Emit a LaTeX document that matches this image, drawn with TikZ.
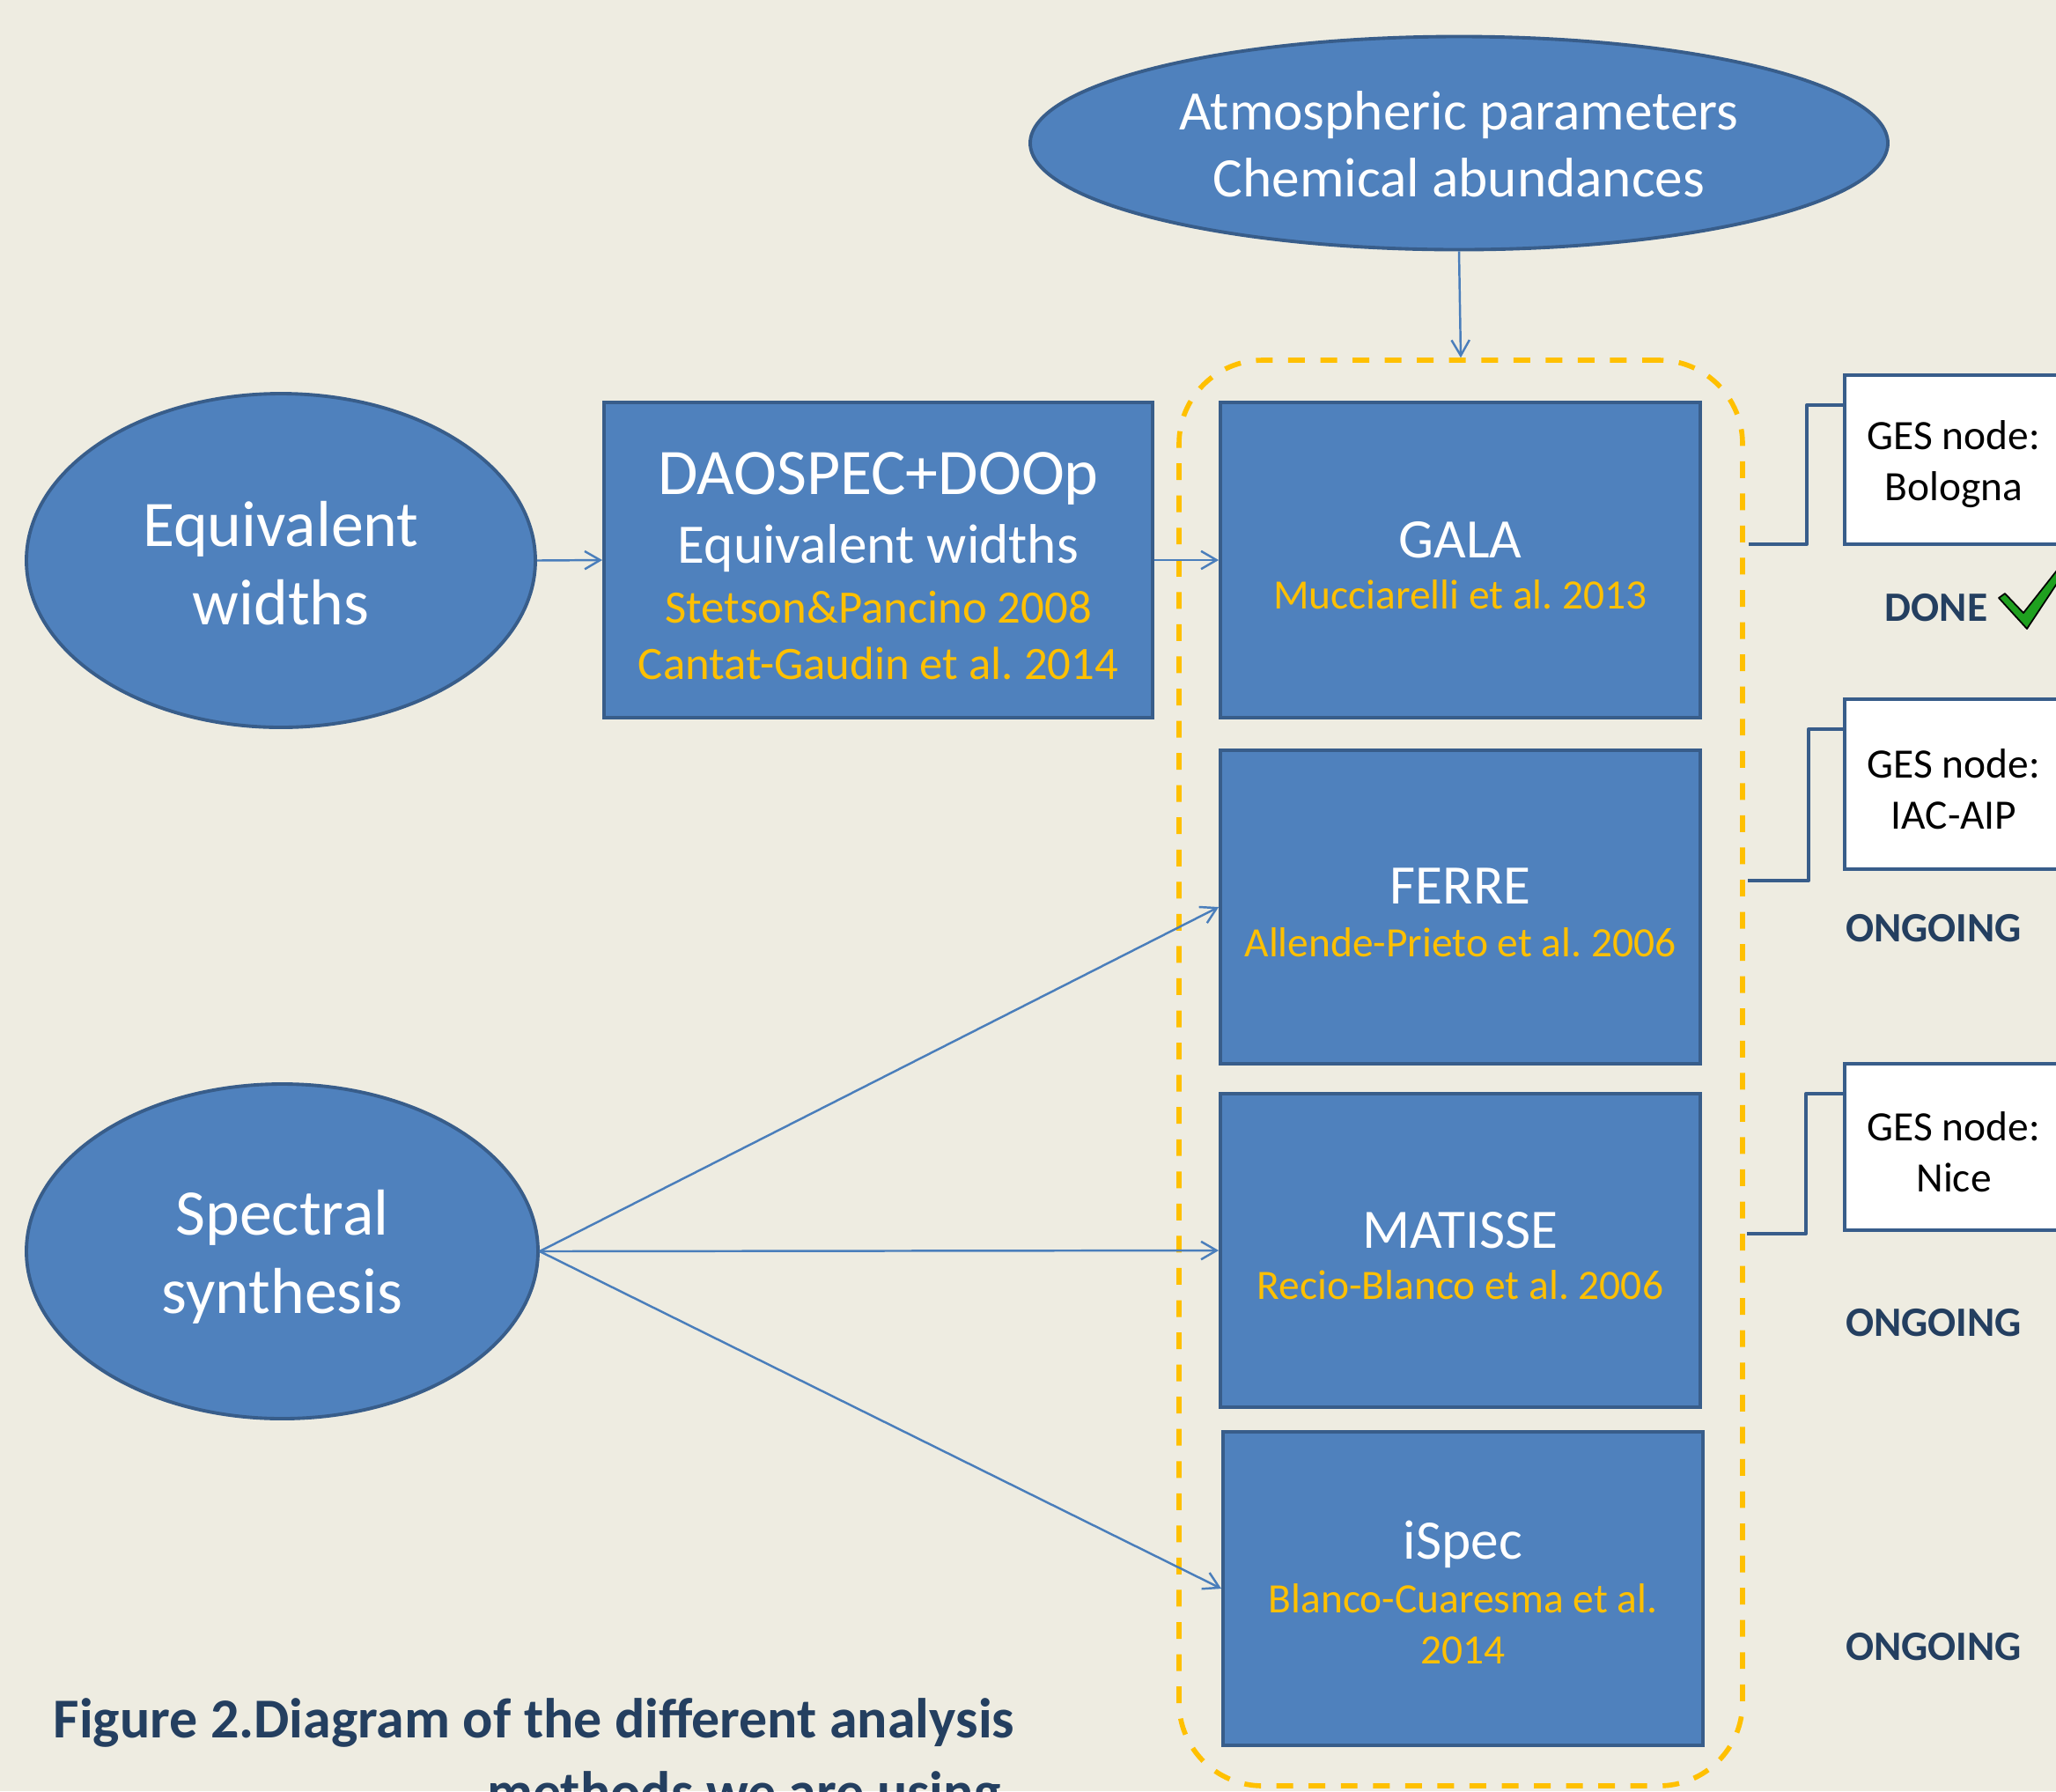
\documentclass[tikz,border=0pt]{standalone}
\usepackage{fontspec}
\setmainfont{Carlito}
\usepackage{xcolor}
\usetikzlibrary{arrows.meta,shapes.geometric,positioning,calc}
\definecolor{bgtan}{HTML}{EEECE1}
\definecolor{boxblue}{HTML}{4F81BD}
\definecolor{boxedge}{HTML}{385D8A}
\definecolor{linkblue}{HTML}{4A7EBB}
\definecolor{refgold}{HTML}{FFC000}
\definecolor{capblue}{HTML}{243F60}
\definecolor{checkgreen}{HTML}{1FA01F}
\frenchspacing
\tikzset{>={Straight Barb[length=5pt,width=5.8pt]}}
\tikzset{
  blob/.style={ellipse,draw=boxedge,fill=boxblue,line width=1.1pt,inner sep=0pt,text=white,align=center},
  method/.style={rectangle,draw=boxedge,fill=boxblue,line width=1.1pt,minimum width=5.45cm,minimum height=3.58cm,
    inner sep=0pt,align=center,text=refgold,font=\fontsize{13.5}{16.5}\selectfont},
  gesbox/.style={rectangle,draw=boxedge,fill=white,line width=1.3pt,minimum width=2.48cm,inner sep=0pt,
    align=center,font=\fontsize{13.5}{16.5}\selectfont},
  status/.style={text=capblue,font=\bfseries\fontsize{13.5}{16.5}\selectfont,inner sep=0pt},
  flow/.style={->,draw=linkblue,line width=0.7pt},
  elbow/.style={draw=boxedge,line width=1.1pt,line join=round},
  bundle/.style={rectangle,draw=refgold,line width=1.6pt,dash pattern=on 5.4pt off 5pt,rounded corners=0.95cm,
    minimum width=6.40cm,minimum height=16.19cm,inner sep=0pt}
}
\newcommand{\mname}[1]{{\color{white}\fontsize{18}{18}\selectfont\rule{0pt}{15pt}#1}}

\begin{document}
\frenchspacing
\begin{tikzpicture}
  \useasboundingbox (0,0) rectangle (23.35,-20.34);
  \fill[bgtan] (0,0) rectangle (23.35,-20.34);

  % Inputs
  \node[blob,minimum width=9.74cm,minimum height=2.42cm,font=\fontsize{18}{21.6}\selectfont] (atm) at (16.57,-1.625)
    {\rule{0pt}{13pt}Atmospheric parameters\\Chemical abundances};
  \node[blob,minimum width=5.78cm,minimum height=3.79cm,font=\fontsize{21}{25.3}\selectfont] (eqw) at (3.19,-6.365)
    {\rule{0pt}{16.5pt}Equivalent\\widths};
  \node[blob,minimum width=5.81cm,minimum height=3.80cm,font=\fontsize{21}{25.3}\selectfont] (syn) at (3.205,-14.21)
    {\rule{0pt}{18pt}Spectral\\synthesis};

  % Codes
  \node[method,minimum width=6.23cm,font=\fontsize{15}{18.2}\selectfont] (dao) at (9.975,-6.36)
    {{\color{white}\fontsize{21}{21}\selectfont\rule{0pt}{17.5pt}DAOSPEC+DOOp}\\[4pt]
     {\color{white}\fontsize{18}{18}\selectfont Equivalent widths}\\[1.1pt]
     Stetson\&Pancino 2008\\Cantat-Gaudin et al. 2014};
  \node[bundle] (pack) at (16.59,-12.185) {};
  \node[method] (gala) at (16.585,-6.36) {\mname{GALA}\\[0pt]Mucciarelli et al. 2013};
  \node[method,minimum height=3.56cm] (ferre) at (16.585,-10.30) {\mname{FERRE}\\[0.5pt]Allende-Prieto et al. 2006};
  \node[method,minimum height=3.56cm] (matisse) at (16.585,-14.20) {\mname{MATISSE}\\[0pt]Recio-Blanco et al. 2006};
  \node[method,minimum height=3.56cm] (ispec) at (16.615,-18.04) {\mname{iSpec}\\[1pt]Blanco-Cuaresma et al.\\2014};

  % GES nodes
  \node[gesbox,minimum height=1.92cm] (ges1) at (22.19,-5.22) {\rule{0pt}{12.5pt}GES node:\\Bologna};
  \node[gesbox,minimum height=1.93cm] (ges2) at (22.19,-8.905) {\rule{0pt}{12.5pt}GES node:\\IAC-AIP};
  \node[gesbox,minimum height=1.89cm] (ges3) at (22.19,-13.025) {\rule{0pt}{12.5pt}GES node:\\Nice};
  \coordinate (e1) at (19.86,-6.18);
  \coordinate (e2) at (19.85,-10.00);
  \coordinate (e3) at (19.84,-14.01);

  % Lines
  \draw[flow] (atm.south) -- (pack.north);
  \draw[flow] (eqw.east) -- (dao.west);
  \draw[flow] (dao.east) -- (gala.west);
  \draw[flow] (syn.east) -- (ferre.west);
  \draw[flow] (syn.east) -- (matisse.west);
  \draw[flow] (syn.east) -- (ispec.west);
  \draw[elbow] (e1) -- ++(0.66,0) |- ([yshift=-0.36cm]ges1.north west);
  \draw[elbow] (e2) -- ++(0.69,0) |- ([yshift=-0.36cm]ges2.north west);
  \draw[elbow] (e3) -- ++(0.67,0) |- ([yshift=-0.36cm]ges3.north west);

  % Status
  \node[status] (done) at (21.99,-6.90) {DONE};
  \node[status] (ongoing1) at (21.96,-10.54) {ONGOING};
  \node[status] (ongoing2) at (21.96,-15.02) {ONGOING};
  \node[status] (ongoing3) at (21.96,-18.70) {ONGOING};
  \filldraw[fill=checkgreen,draw=black,line width=0.5pt,line join=round]
    (22.70,-6.79) -- (22.77,-6.74) -- (22.98,-6.96) -- (23.50,-6.30) -- (23.53,-6.37) -- (23.02,-7.14) -- cycle;

  % Caption
  \node[anchor=north west,align=right,inner sep=0pt,text=capblue,font=\bfseries\fontsize{18.2}{23.5}\selectfont] (caption)
    at (0.60,-19.28) {Figure 2.Diagram of the different analysis\\methods we are using\kern4.5pt};
\end{tikzpicture}
\end{document}
